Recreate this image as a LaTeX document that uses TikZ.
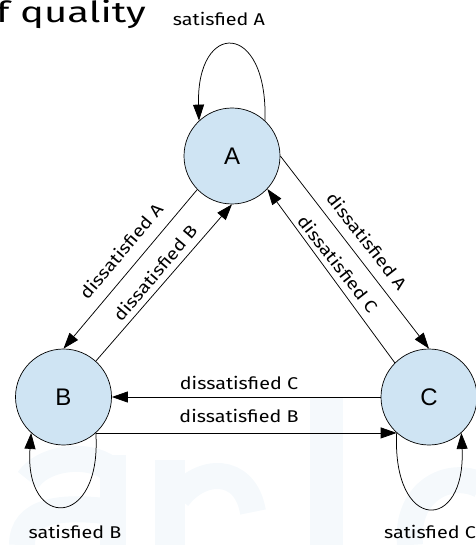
\documentclass[tikz,border=0pt]{standalone}
\usepackage{fontspec}
\setmainfont{Fira Sans}
\newfontfamily\labfont[FakeStretch=1.16]{Fira Sans}
\newfontfamily\titlefont[FakeStretch=1.38]{Fira Sans}
\newfontfamily\nodefont{Liberation Sans}
\usetikzlibrary{arrows.meta,calc}
\definecolor{nodefill}{HTML}{CFE4F3}
\definecolor{wm}{HTML}{F5F9FC}
\begin{document}
\begin{tikzpicture}[x=1pt,y=-1pt,
  state/.style={circle,draw,fill=nodefill,minimum size=96pt,inner sep=0pt,
    font=\nodefont\fontsize{24}{24}\selectfont,line width=0.7pt},
  edge/.style={line width=0.75pt,-{Triangle[length=16pt,width=11pt]}},
  lbl/.style={font=\labfont\fontsize{17}{17}\selectfont,inner sep=0pt},
  wmark/.style={wm,line width=26pt}
]
\useasboundingbox (0,0) rectangle (475,545);
% faint watermark
\fill[wm] (100,455) rectangle (126,545);
\draw[wmark] (28,480) .. controls (45,455) and (95,452) .. (113,472);
\draw[wmark] (113,512) .. controls (60,505) and (22,510) .. (22,545);
\fill[wm] (155,460) rectangle (185,545);
\draw[wmark] (178,498) .. controls (200,468) and (245,465) .. (253,512);
\fill[wm] (310,398) rectangle (343,545);
\draw[wmark] (410,545) .. controls (405,490) and (450,470) .. (480,485);
% title fragment
\node[font=\titlefont\fontsize{29}{29}\selectfont,anchor=base west,inner sep=0pt] (title) at (-4,23) {f quality};
% states
\node[state] (A) at (232,156) {A};
\node[state] (B) at (63.5,397) {B};
\node[state] (C) at (429,397) {C};
% transitions
\draw[edge] (A.224) -- (B.north);
\draw[edge] (B.48) -- (A.south);
\draw[edge] (A.east) -- (C.north);
\draw[edge] (C.135) -- (A.317);
\draw[edge] (C.west) -- (B.east);
\draw[edge] (B.312) -- (C.228);
% self loops
\draw[edge] (A.47) .. controls (268,20) and (196,20) .. (A.133);
\draw[edge] (B.312) .. controls (102,530) and (24,530) .. (B.228);
\draw[edge] (C.228) .. controls (392,533) and (466,533) .. (C.312);
% labels
\node[lbl] (sA) at (219,19) {satisfied A};
\node[lbl] (sB) at (75,532) {satisfied B};
\node[lbl] (sC) at (430,532) {satisfied C};
\node[lbl] (dCh) at (239,383) {dissatisfied C};
\node[lbl] (dBh) at (239,415.5) {dissatisfied B};
\node[lbl,rotate=49.7] (dAl) at (121,251) {dissatisfied A};
\node[lbl,rotate=49.7] (dBl) at (155,273) {dissatisfied B};
\node[lbl,rotate=-52] (dAr) at (367,241) {dissatisfied A};
\node[lbl,rotate=-52] (dCr) at (338,264) {dissatisfied C};
\end{tikzpicture}
\end{document}
